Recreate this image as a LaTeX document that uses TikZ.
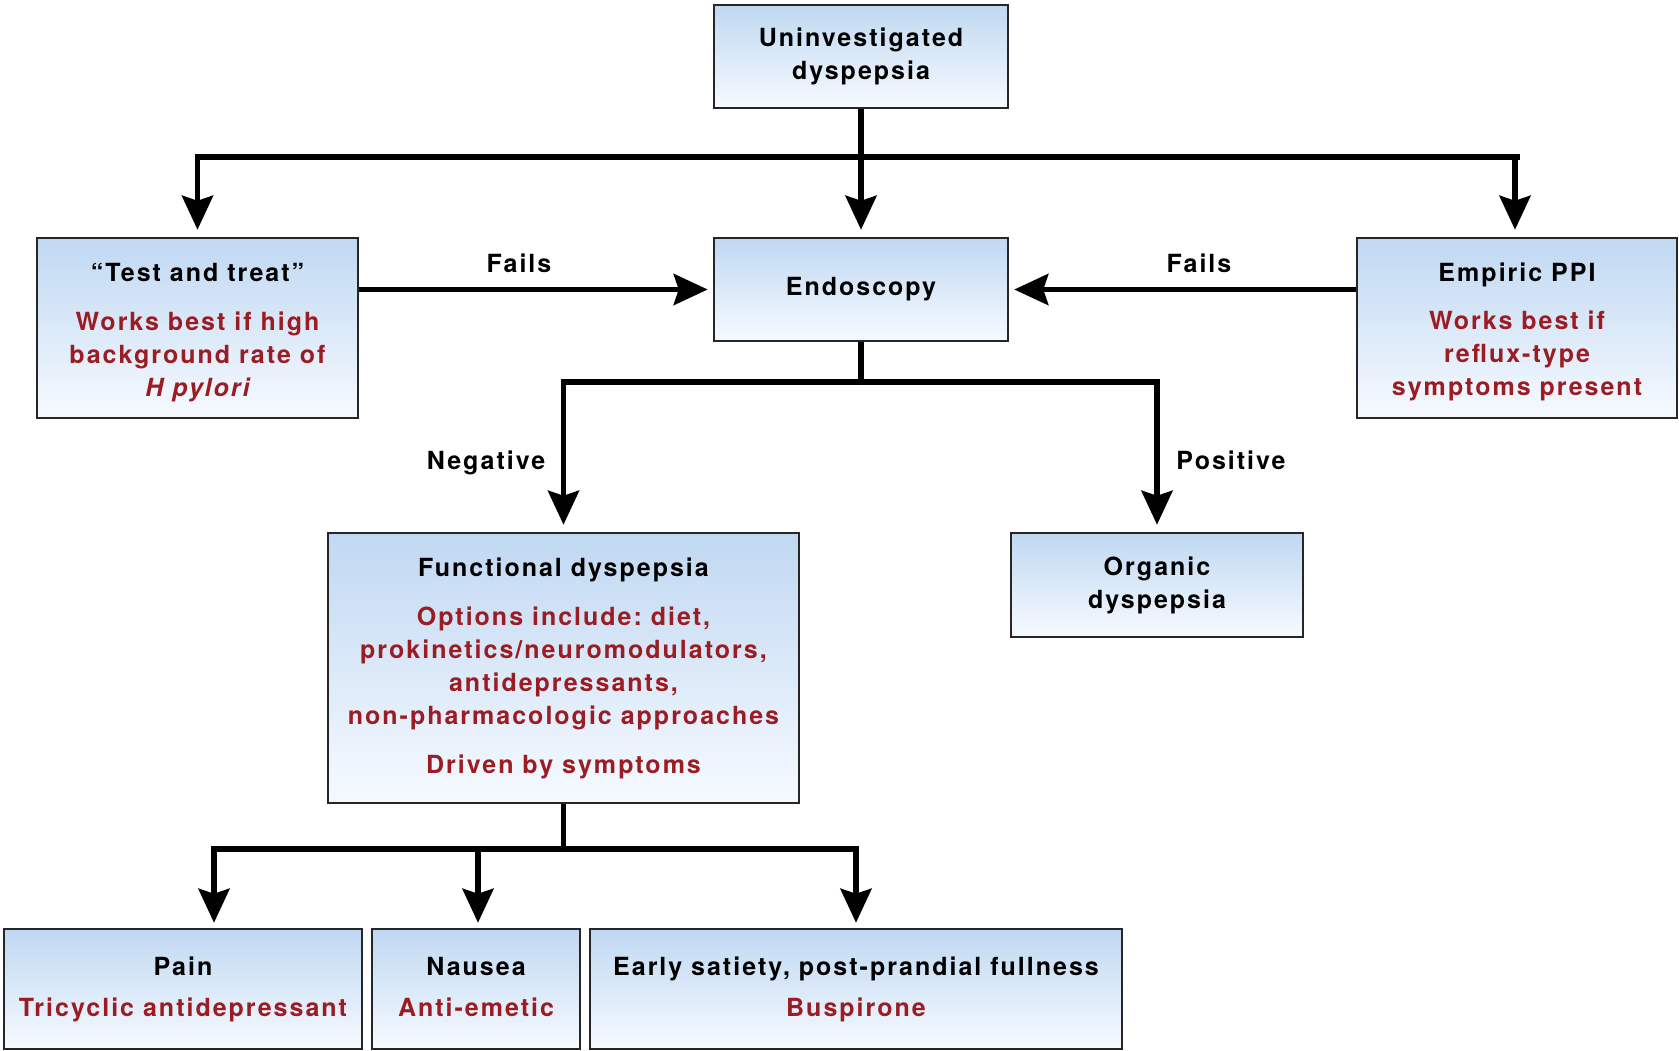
\documentclass[tikz,border=0pt]{standalone}
\usepackage{fontspec}
\setmainfont[LetterSpace=8]{TeX Gyre Heros}
\usetikzlibrary{arrows.meta}
\definecolor{dred}{RGB}{155,28,34}
\definecolor{topblue}{RGB}{192,216,242}
\definecolor{botblue}{RGB}{246,250,255}
\frenchspacing
\begin{document}
\begin{tikzpicture}[x=1pt,y=-1pt,
  box/.style={draw=black!85, line width=2.5pt, top color=topblue, bottom color=botblue,
    inner sep=0pt, align=center, font=\fontsize{25}{33}\selectfont\bfseries},
  line/.style={line width=5.5pt, black},
  arr/.style={line width=5.5pt, black, -{Stealth[length=34pt,width=31pt,inset=5pt]}},
  lbl/.style={font=\fontsize{25}{33}\selectfont\bfseries, inner sep=0pt},
  rt/.style={text=dred}]
\useasboundingbox (0,0) rectangle (1679,1051);
\fill[white] (0,0) rectangle (1679,1051);

\node[box, minimum width=294pt, minimum height=103pt] (top) at (861,56.5) {Uninvestigated\\dyspepsia};
\node[box, minimum width=321pt, minimum height=180pt] (tt) at (197.5,328)
  {\rule{0pt}{27pt}``Test and treat''\\[16pt]\color{dred}Works best if high\\\color{dred}background rate of\\\color{dred}\itshape H pylori};
\node[box, minimum width=294pt, minimum height=103pt] (endo) at (861,289.5) {Endoscopy};
\node[box, minimum width=320pt, minimum height=180pt] (ppi) at (1517,328)
  {\rule{0pt}{27pt}Empiric PPI\\[15pt]\color{dred}Works best if\\\color{dred}reflux-type\\\color{dred}symptoms present};
\node[box, minimum width=471pt, minimum height=270pt] (func) at (563.5,668)
  {Functional dyspepsia\\[16pt]\color{dred}Options include: diet,\\\color{dred}prokinetics/neuromodulators,\\\color{dred}antidepressants,\\\color{dred}non-pharmacologic approaches\\[16pt]\color{dred}Driven by symptoms};
\node[box, minimum width=292pt, minimum height=104pt] (org) at (1157,585) {Organic\\dyspepsia};
\node[box, minimum width=358pt, minimum height=120pt] (pain) at (183,989)
  {Pain\strut\\[8pt]\color{dred}Tricyclic antidepressant\strut};
\node[box, minimum width=208pt, minimum height=120pt] (nau) at (476,989)
  {Nausea\strut\\[8pt]\color{dred}Anti-emetic\strut};
\node[box, minimum width=532pt, minimum height=120pt] (early) at (856,989)
  {Early satiety, post-prandial fullness\strut\\[8pt]\color{dred}Buspirone\strut};

% top branching
\coordinate (j1) at (861,157);
\draw[line] ([xshift=-2.75pt]tt.north |- j1) -- ([xshift=2.75pt]ppi.north |- j1);
\draw[arr, shorten >=7pt] (top.south) -- (endo.north);
\draw[arr, shorten >=7pt] (j1) -| (tt.north);
\draw[arr, shorten >=7pt] (j1) -| ([xshift=-2pt]ppi.north);

% fails
\draw[arr, shorten >=5pt] (endo.west -| tt.east) -- (endo.west);
\draw[arr, shorten >=5pt] (endo.east -| ppi.west) -- (endo.east);
\node[lbl] (f1) at (519,263) {Fails};
\node[lbl] (f2) at (1199,263) {Fails};

% endoscopy branching
\coordinate (j2) at (861,382);
\draw[line] (endo.south) -- (j2);
\draw[line] ([xshift=-2.75pt]func.north |- j2) -- ([xshift=2.75pt]org.north |- j2);
\draw[arr, shorten >=7pt] (j2) -| (func.north);
\draw[arr, shorten >=7pt] (j2) -| (org.north);
\node[lbl] (neg) at (486,463) {Negative};
\node[lbl] (pos) at (1231,460) {Positive};

% functional branching
\coordinate (j3) at (563.5,849);
\draw[line] (func.south) -- (j3);
\draw[line] ([xshift=28.25pt]pain.north |- j3) -- ([xshift=2.75pt]early.north |- j3);
\draw[arr, shorten >=5pt] (j3) -| ([xshift=31pt]pain.north);
\draw[arr, shorten >=5pt] (j3) -| ([xshift=2pt]nau.north);
\draw[arr, shorten >=5pt] (j3) -| (early.north);
\end{tikzpicture}
\end{document}
